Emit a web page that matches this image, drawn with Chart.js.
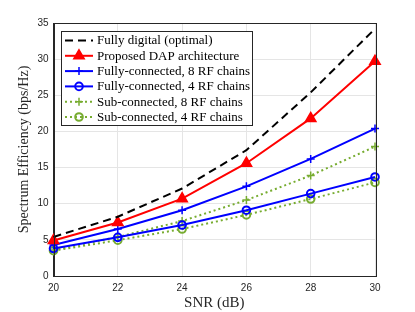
<!DOCTYPE html>
<html>
<head>
<meta charset="utf-8">
<script src="https://cdn.jsdelivr.net/npm/chart.js@4/dist/chart.umd.min.js"></script>
<style>
  html, body { margin: 0; padding: 0; background: #fff; }
  #wrap { width: 415px; height: 312px; }
</style>
</head>
<body>
<div id="wrap"><canvas id="myChart" width="415" height="312"></canvas></div>
<script>
const snr = [20, 22, 24, 26, 28, 30];
const fullyDigital = [5.4, 8.2, 12.1, 17.4, 25.4, 34.2];
const proposedDAP = [4.9, 7.4, 10.7, 15.6, 21.8, 29.7];
const fully8 = [4.3, 6.5, 9.1, 12.4, 16.2, 20.4];
const fully4 = [3.8, 5.35, 7.05, 9.1, 11.4, 13.7];
const sub8 = [3.6, 5.4, 7.6, 10.5, 13.9, 17.9];
const sub4 = [3.5, 4.95, 6.5, 8.45, 10.65, 12.95];
const yTicks = [0, 5, 10, 15, 20, 25, 30, 35];

const green = '#77AC30';
const pts = (arr) => arr.map((v, i) => ({x: snr[i], y: v}));

const boxPlugin = {
    id: 'box',
    afterDatasetsDraw(chart) {
        const {ctx, chartArea: a} = chart;
        ctx.save();
        ctx.strokeStyle = '#262626';
        ctx.lineWidth = 1;
        ctx.strokeRect(Math.round(a.left) + 0.5, Math.round(a.top) + 0.5,
            Math.round(a.right - a.left), Math.round(a.bottom - a.top));
        ctx.restore();
    }
};

// legend drawn inside the axes like matlab's northwest legend
const legendPlugin = {
    id: 'boxLegend',
    afterDraw(chart) {
        const ctx = chart.ctx;
        const x0 = 61, y0 = 31, w = 191, h = 94;
        ctx.save();
        ctx.fillStyle = '#fff';
        ctx.fillRect(x0, y0, w, h);
        ctx.strokeStyle = '#262626';
        ctx.lineWidth = 1;
        ctx.strokeRect(x0 + 0.5, y0 + 0.5, w, h);
        ctx.font = '13px "Liberation Serif"';
        ctx.textBaseline = 'middle';
        chart.data.datasets.forEach((ds, i) => {
            const cy = y0 + 9.5 + i * 15.3;
            ctx.strokeStyle = ds.borderColor;
            ctx.lineWidth = ds.borderWidth;
            ctx.setLineDash(ds.borderDash || []);
            ctx.beginPath();
            ctx.moveTo(65, cy);
            ctx.lineTo(93, cy);
            ctx.stroke();
            ctx.setLineDash([]);
            if (ds.pointStyle) {
                ctx.fillStyle = ds.pointBackgroundColor;
                ctx.strokeStyle = ds.borderColor;
                ctx.lineWidth = ds.pointBorderWidth;
                Chart.helpers.drawPoint(ctx, {pointStyle: ds.pointStyle, radius: ds.pointRadius, rotation: 0, borderWidth: ds.pointBorderWidth}, 79, cy);
            }
            ctx.fillStyle = '#000';
            ctx.fillText(ds.label, 97, cy + 0.5);
        });
        ctx.restore();
    }
};

const ctx = document.getElementById('myChart').getContext('2d');
const myChart = new Chart(ctx, {
    type: 'line',
    data: {
        datasets: [
            {
                label: 'Fully digital (optimal)',
                data: pts(fullyDigital),
                borderColor: '#000',
                borderWidth: 2,
                borderDash: [8, 5],
                pointStyle: false,
                pointRadius: 0
            },
            {
                label: 'Proposed DAP architecture',
                data: pts(proposedDAP),
                borderColor: '#ff0000',
                borderWidth: 2,
                pointStyle: 'triangle',
                pointRadius: 6,
                pointBackgroundColor: '#ff0000',
                pointBorderWidth: 1.5
            },
            {
                label: 'Fully-connected, 8 RF chains',
                data: pts(fully8),
                borderColor: '#0000ff',
                borderWidth: 2,
                pointStyle: 'cross',
                pointRadius: 4,
                pointBackgroundColor: '#0000ff',
                pointBorderWidth: 1.5
            },
            {
                label: 'Fully-connected, 4 RF chains',
                data: pts(fully4),
                borderColor: '#0000ff',
                borderWidth: 2,
                pointStyle: 'circle',
                pointRadius: 3.8,
                pointBackgroundColor: 'rgba(0,0,0,0)',
                pointBorderWidth: 2
            },
            {
                label: 'Sub-connected, 8 RF chains',
                data: pts(sub8),
                borderColor: green,
                borderWidth: 2,
                borderDash: [2, 3],
                pointStyle: 'cross',
                pointRadius: 4,
                pointBackgroundColor: green,
                pointBorderWidth: 1.5
            },
            {
                label: 'Sub-connected, 4 RF chains',
                data: pts(sub4),
                borderColor: green,
                borderWidth: 2,
                borderDash: [2, 3],
                pointStyle: 'circle',
                pointRadius: 3.8,
                pointBackgroundColor: 'rgba(0,0,0,0)',
                pointBorderWidth: 2
            }
        ]
    },
    options: {
        responsive: false,
        animation: false,
        layout: { padding: { left: 0, right: 40, top: 23, bottom: 0 } },
        elements: { line: { tension: 0 } },
        clip: false,
        plugins: {
            legend: { display: false },
            tooltip: { enabled: false }
        },
        scales: {
            x: {
                type: 'linear',
                min: 20,
                max: 30,
                afterBuildTicks: (s) => { s.ticks = snr.map(v => ({value: v})); },
                afterFit: (s) => { s.height = 36; },
                grid: { color: '#e5e5e5', drawTicks: false },
                border: { color: '#262626' },
                ticks: { color: '#262626', font: { family: 'Liberation Sans', size: 10 }, padding: 6 },
                title: { display: true, text: 'SNR (dB)', color: '#262626', font: { family: 'Liberation Serif', size: 15 }, padding: { top: 0, bottom: 0 } }
            },
            y: {
                min: 0,
                max: 35,
                afterBuildTicks: (s) => { s.ticks = yTicks.map(v => ({value: v})); },
                afterFit: (s) => { s.width = 53.5; },
                grid: { color: '#e5e5e5', drawTicks: false },
                border: { color: '#262626' },
                ticks: { color: '#262626', font: { family: 'Liberation Sans', size: 10 }, padding: 5 },
                title: { display: true, text: 'Spectrum Efficiency (bps/Hz)', color: '#262626', font: { family: 'Liberation Serif', size: 14 }, padding: { top: 16, bottom: 0 } }
            }
        }
    },
    plugins: [boxPlugin, legendPlugin]
});
</script>
</body>
</html>
